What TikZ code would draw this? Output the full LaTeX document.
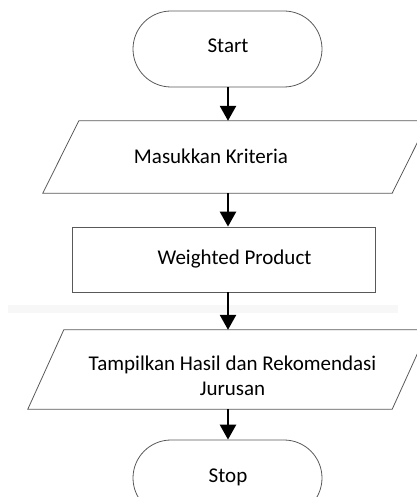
\documentclass[tikz,border=0pt]{standalone}
\usepackage{fontspec}
\setmainfont{Carlito}
\usetikzlibrary{arrows.meta,calc}
\begin{document}
\begin{tikzpicture}[x=1pt,y=-1pt,
  shapeline/.style={draw=black!65,line width=0.8pt},
  term/.style={shapeline,rectangle,rounded corners=38pt,minimum width=189pt,minimum height=76pt,inner sep=0pt},
  procbox/.style={shapeline,rectangle,minimum width=303pt,minimum height=65pt,inner sep=0pt},
  iobox/.style={rectangle,draw=none,inner sep=0pt},
  txt/.style={font=\fontsize{21}{25.2}\selectfont,align=center,inner sep=0pt},
  flow/.style={line width=2.6pt,-{Triangle[length=15pt,width=16pt]}}]
\useasboundingbox (0,0) rectangle (416,497);
% faint band
\fill[black!3] (8,305) rectangle (398,313);
% shapes
\node[term] (start) at (227.5,49) {};
\node[txt] (starttxt) at (228,46) {Start};
\node[iobox,minimum width=385pt,minimum height=72pt] (in) at (235.5,157) {};
\draw[shapeline] ($(in.north west)+(36,0)$) -- (in.north east) -- ($(in.south east)+(-36,0)$) -- (in.south west) -- cycle;
\node[txt] (intxt) at (211,156) {Masukkan Kriteria};
\node[procbox] (wp) at (223.5,259.5) {};
\node[txt] (wptxt) at (234.5,259) {Weighted Product};
\node[iobox,minimum width=400pt,minimum height=79pt] (out) at (228,369.5) {};
\draw[shapeline] ($(out.north west)+(36,0)$) -- (out.north east) -- ($(out.south east)+(-36,0)$) -- (out.south west) -- cycle;
\node[txt] (outtxt) at (232.5,375.5) {Tampilkan Hasil dan Rekomendasi\\Jurusan};
\node[term] (stop) at (227.5,478) {};
\node[txt] (stoptxt) at (228,477) {Stop};
% connectors
\draw[flow] ([xshift=0.5pt]start.south) -- ([xshift=0.5pt]start.south |- in.north);
\draw[flow] ([xshift=0.5pt]start.south |- in.south) -- ([xshift=0.5pt]start.south |- wp.north);
\draw[flow] ([xshift=0.5pt]start.south |- wp.south) -- ([xshift=0.5pt]start.south |- out.north);
\draw[flow] ([xshift=0.5pt]start.south |- out.south) -- ([xshift=0.5pt]stop.north);
\end{tikzpicture}
\end{document}
